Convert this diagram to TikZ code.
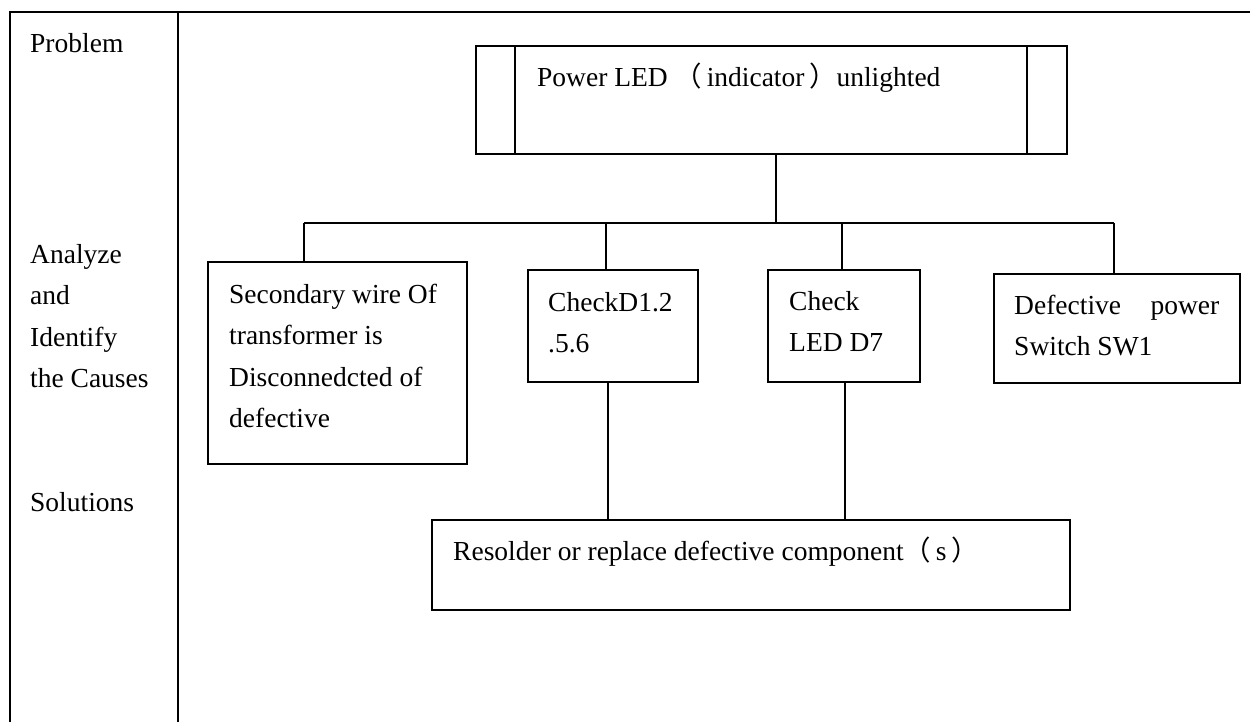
\documentclass[tikz,border=0pt]{standalone}
\usepackage{fontspec}
\setmainfont{Liberation Serif}
\newfontfamily\cjk{Noto Sans CJK SC}
\begin{document}
\begin{tikzpicture}[x=1pt,y=-1pt,
  frame/.style={line width=2.6pt},
  box/.style={draw,line width=2pt,rectangle,inner sep=0pt},
  conn/.style={line width=2pt},
  txt/.style={anchor=base west,inner sep=0pt,font=\fontsize{27.5}{41.5}\selectfont}]
\useasboundingbox (0,0) rectangle (1250,722);
% frame
\draw[frame] (10,722) -- (10,12) -- (1250,12);
\draw[frame] (178,12) -- (178,722);
% left column labels
\node[txt] (lp) at (30,53) {Problem};
\node[txt] (la) at (30,263) {\begin{tabular}[t]{@{}l@{}}Analyze\\and\\Identify\\the Causes\end{tabular}};
\node[txt] (ls) at (30,511) {Solutions};
% boxes
\node[box,minimum width=591pt,minimum height=108pt] (top) at (771.5,100) {};
\draw[conn] ([xshift=40pt]top.north west) -- ([xshift=40pt]top.south west);
\draw[conn] ([xshift=-41pt]top.north east) -- ([xshift=-41pt]top.south east);
\node[box,minimum width=259pt,minimum height=202pt] (sec) at (337.5,363) {};
\node[box,minimum width=170pt,minimum height=112pt] (chk) at (613,326) {};
\node[box,minimum width=152pt,minimum height=112pt] (led) at (844,326) {};
\node[box,minimum width=246pt,minimum height=109pt] (def) at (1117,328.5) {};
\node[box,minimum width=638pt,minimum height=90pt] (res) at (751,565) {};
% texts
\node[txt] (ttop) at (537,87) {Power LED {\cjk （}\,indicator\,{\cjk ）}unlighted};
\node[txt] (tsec) at (229,303) {\begin{tabular}[t]{@{}l@{}}Secondary wire Of\\transformer is\\Disconnedcted of\\defective\end{tabular}};
\node[txt] (tchk) at (548,311) {\begin{tabular}[t]{@{}l@{}}CheckD1.2\\.5.6\end{tabular}};
\node[txt] (tled) at (789,310) {\begin{tabular}[t]{@{}l@{}}Check\\LED D7\end{tabular}};
\node[txt] (tdef) at (1014,314) {\begin{tabular}[t]{@{}l@{}}\makebox[205pt][l]{Defective\hfill power}\\Switch SW1\end{tabular}};
\node[txt] (tres) at (453,560) {Resolder or replace defective component{\cjk （}\,s\,{\cjk ）}};
% bus
\coordinate (bl) at (304,223);
\coordinate (br) at (1114,223);
\coordinate (bm) at (776,223);
\coordinate (bc) at (606,223);
\coordinate (bd) at (842,223);
\draw[conn] (bl) -- (br);
\draw[conn] ([xshift=4.5pt]top.south) -- (bm);
\draw[conn] (bl) -- (bl |- sec.north);
\draw[conn] (bc) -- (bc |- chk.north);
\draw[conn] (bd) -- (bd |- led.north);
\draw[conn] (br) -- (br |- def.north);
\draw[conn] ([xshift=-5pt]chk.south) -- ([xshift=-5pt]chk.south |- res.north);
\draw[conn] ([xshift=1pt]led.south) -- ([xshift=1pt]led.south |- res.north);
\end{tikzpicture}
\end{document}
